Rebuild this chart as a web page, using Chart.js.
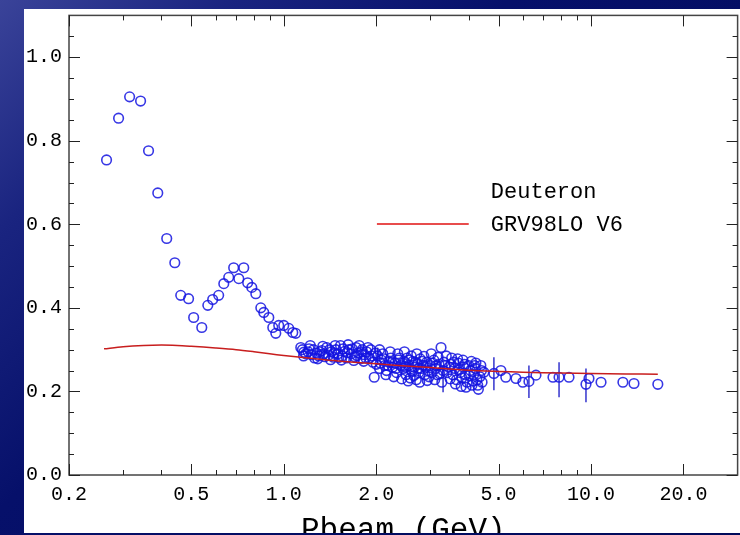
<!DOCTYPE html>
<html>
<head>
<meta charset="utf-8">
<script src="https://cdn.jsdelivr.net/npm/chart.js@4/dist/chart.umd.min.js"></script>
<style>
html, body { margin: 0; padding: 0; }
body {
  width: 740px; height: 535px; overflow: hidden; position: relative;
  background: linear-gradient(135deg, #3a4399 0%, #1a2480 18%, #06106a 40%, #000a5a 100%);
}
#panel { position: absolute; left: 24px; top: 9px; width: 716px; height: 524px; background: #fff; overflow: hidden; }
</style>
</head>
<body>
<div id="panel"><canvas id="plot" width="720" height="540"></canvas></div>
<script>
// deuteron data, Pbeam (GeV) vs ratio
var deutP = [
  0.265, 0.290, 0.315, 0.342, 0.363, 0.389, 0.416, 0.442, 0.462, 0.490,
  0.509, 0.541, 0.566, 0.587, 0.614, 0.638, 0.662, 0.687, 0.714, 0.741,
  0.763, 0.787, 0.811, 0.842, 0.861, 0.894, 0.921, 0.942, 0.963, 1.000,
  1.038, 1.070, 1.094, 1.136, 1.162,
  1.15, 1.18, 1.20, 1.23, 1.25, 1.28, 1.30, 1.33, 1.35, 1.38,
  1.40, 1.43, 1.45, 1.48, 1.50, 1.53, 1.55, 1.58, 1.60, 1.63,
  1.66, 1.70, 1.72, 1.75, 1.78, 1.80, 1.83, 1.86, 1.90,
  1.92, 1.95, 1.97, 2.00, 2.02, 2.05, 2.08, 2.10, 2.13, 2.16,
  2.20, 2.23, 2.26, 2.30, 2.33, 2.36, 2.40,
  2.45, 2.48, 2.50, 2.52, 2.55, 2.58, 2.60, 2.63, 2.66, 2.70,
  2.72, 2.75, 2.78, 2.80, 2.84, 2.88, 2.92, 2.95, 3.00, 3.04,
  3.08, 3.12, 3.16, 3.20, 3.25, 3.30, 3.35, 3.40,
  3.50, 3.55, 3.60, 3.65, 3.70, 3.75, 3.80, 3.85, 3.90, 3.95,
  4.00, 4.05, 4.10, 4.15, 4.20, 4.30, 4.35,
  1.16, 1.21, 1.26, 1.31, 1.36, 1.41, 1.46, 1.51, 1.56, 1.61,
  1.67, 1.73, 1.79, 1.85, 1.93, 1.99, 2.06, 2.12, 2.18, 2.25,
  2.32, 2.38, 2.44, 2.50, 2.56, 2.62, 2.68, 2.74, 2.82, 2.90,
  2.97, 3.05, 3.14, 3.22, 3.32, 3.45, 3.58, 3.72, 3.88, 4.02,
  4.18, 4.25, 4.40,
  2.05, 2.15, 2.22, 2.28, 2.35, 2.42, 2.47, 2.54, 2.60, 2.65,
  2.71, 2.77, 2.86, 2.93, 3.02, 3.10, 3.18, 3.27, 3.38, 3.48,
  3.52, 3.62, 3.68, 3.78, 3.83, 3.92, 4.08, 4.12, 4.22, 4.28,
  4.38, 4.42,
  1.22, 1.29, 1.34, 1.42, 1.47, 1.54, 1.62, 1.69, 1.76, 1.82, 1.88,
  4.48, 4.83, 5.09, 5.28, 5.70, 6.00, 6.28, 6.62, 7.52, 7.87,
  8.48, 9.63, 9.85, 10.78, 12.7, 13.8, 16.5
];
var deutR = [
  0.754, 0.854, 0.905, 0.895, 0.776, 0.675, 0.566, 0.508, 0.430, 0.422,
  0.377, 0.353, 0.406, 0.420, 0.430, 0.458, 0.473, 0.496, 0.470, 0.496,
  0.460, 0.449, 0.434, 0.400, 0.389, 0.377, 0.353, 0.339, 0.358, 0.358,
  0.351, 0.341, 0.339, 0.305, 0.294,
  0.300, 0.290, 0.295, 0.288, 0.300, 0.292, 0.285, 0.298, 0.290, 0.305,
  0.287, 0.295, 0.282, 0.300, 0.290, 0.310, 0.285, 0.296, 0.280, 0.300,
  0.290, 0.283, 0.305, 0.292, 0.278, 0.300, 0.288, 0.295, 0.280,
  0.300, 0.270, 0.234, 0.265, 0.285, 0.255, 0.275, 0.290, 0.262, 0.250,
  0.270, 0.280, 0.258, 0.268, 0.245, 0.275, 0.262,
  0.255, 0.270, 0.240, 0.280, 0.262, 0.232, 0.250, 0.272, 0.258, 0.228,
  0.265, 0.245, 0.278, 0.255, 0.262, 0.240, 0.270, 0.250, 0.262, 0.245,
  0.275, 0.255, 0.240, 0.265, 0.305, 0.250, 0.262, 0.245,
  0.265, 0.240, 0.255, 0.228, 0.268, 0.245, 0.232, 0.258, 0.240, 0.222,
  0.262, 0.250, 0.215, 0.240, 0.255, 0.205, 0.235,
  0.285, 0.302, 0.280, 0.295, 0.283, 0.300, 0.292, 0.281, 0.302, 0.293,
  0.302, 0.286, 0.295, 0.280, 0.285, 0.292, 0.268, 0.278, 0.262, 0.270,
  0.255, 0.280, 0.268, 0.258, 0.275, 0.248, 0.270, 0.255, 0.272, 0.258,
  0.235, 0.268, 0.262, 0.242, 0.270, 0.258, 0.270, 0.252, 0.265, 0.238,
  0.262, 0.228, 0.250,
  0.300, 0.240, 0.295, 0.235, 0.290, 0.230, 0.295, 0.225, 0.285, 0.238,
  0.290, 0.222, 0.284, 0.226, 0.290, 0.228, 0.282, 0.222, 0.285, 0.230,
  0.280, 0.218, 0.278, 0.212, 0.275, 0.210, 0.272, 0.225, 0.268, 0.215,
  0.262, 0.222,
  0.310, 0.278, 0.308, 0.276, 0.310, 0.275, 0.312, 0.274, 0.310, 0.272, 0.305,
  0.246, 0.243, 0.250, 0.234, 0.231, 0.222, 0.224, 0.239, 0.234, 0.234,
  0.234, 0.217, 0.231, 0.222, 0.222, 0.219, 0.217
];

// error bars (low / high ends)
var errP  = [2.02, 3.30, 4.83, 6.28, 7.87, 9.63];
var errLo = [0.267, 0.198, 0.203, 0.184, 0.186, 0.174];
var errHi = [0.305, 0.262, 0.282, 0.262, 0.270, 0.255];

// GRV98LO V6 curve
var curveP = [0.26, 0.30, 0.35, 0.40, 0.45, 0.50, 0.60, 0.70, 0.80, 0.90, 1.0, 1.2, 1.5, 2.0, 2.5, 3.0, 4.0, 5.0, 6.0, 8.0, 10.0, 13.0, 16.5];
var curveR = [0.302, 0.307, 0.310, 0.311, 0.310, 0.308, 0.304, 0.300, 0.295, 0.290, 0.286, 0.280, 0.273, 0.266, 0.261, 0.257, 0.251, 0.248, 0.246, 0.244, 0.243, 0.242, 0.241];

var xTicks = [0.2, 0.5, 1.0, 2.0, 5.0, 10.0, 20.0];
var xMinor = [0.3, 0.4, 0.6, 0.7, 0.8, 0.9, 3, 4, 6, 7, 8, 9];
var yTicks = [0.0, 0.2, 0.4, 0.6, 0.8, 1.0];
var yMinor = [0.05, 0.1, 0.15, 0.25, 0.3, 0.35, 0.45, 0.5, 0.55, 0.65, 0.7, 0.75, 0.85, 0.9, 0.95, 1.05];

var FONT = '"Liberation Mono", "DejaVu Sans Mono", monospace';

var deutPts = deutP.map(function (p, i) { return {x: p, y: deutR[i]}; });
var curvePts = curveP.map(function (p, i) { return {x: p, y: curveR[i]}; });

// frame, inward ticks on all four sides, error bars, in-plot legend
var framePlugin = {
  id: 'frame',
  beforeDatasetsDraw: function (chart) {
    var c = chart.ctx, xs = chart.scales.x, ys = chart.scales.y;
    c.save();
    c.strokeStyle = 'rgba(30,30,200,0.9)';
    c.lineWidth = 1.5;
    errP.forEach(function (p, i) {
      var px = xs.getPixelForValue(p);
      c.beginPath();
      c.moveTo(px, ys.getPixelForValue(errLo[i]));
      c.lineTo(px, ys.getPixelForValue(errHi[i]));
      c.stroke();
    });
    c.restore();
  },
  afterDatasetsDraw: function (chart) {
    var c = chart.ctx, a = chart.chartArea, xs = chart.scales.x, ys = chart.scales.y;
    c.save();
    c.strokeStyle = '#444';
    c.lineWidth = 1.5;
    c.strokeRect(a.left, a.top, a.right - a.left, a.bottom - a.top);
    c.lineWidth = 1;
    c.strokeStyle = '#222';
    function xt(v, len) {
      var px = Math.round(xs.getPixelForValue(v)) + 0.5;
      c.beginPath();
      c.moveTo(px, a.bottom); c.lineTo(px, a.bottom - len);
      c.moveTo(px, a.top); c.lineTo(px, a.top + len);
      c.stroke();
    }
    function yt(v, len) {
      var py = Math.round(ys.getPixelForValue(v)) + 0.5;
      c.beginPath();
      c.moveTo(a.left, py); c.lineTo(a.left + len, py);
      c.moveTo(a.right, py); c.lineTo(a.right - len, py);
      c.stroke();
    }
    xTicks.forEach(function (v) { xt(v, 11); });
    xMinor.forEach(function (v) { xt(v, 5); });
    yTicks.forEach(function (v) { yt(v, 11); });
    yMinor.forEach(function (v) { yt(v, 5); });

    // legend
    c.fillStyle = '#000';
    c.font = '22px ' + FONT;
    c.textBaseline = 'middle';
    var tx = xs.getPixelForValue(4.72);
    c.fillText('Deuteron', tx, ys.getPixelForValue(0.678));
    c.fillText('GRV98LO V6', tx, ys.getPixelForValue(0.599));
    c.strokeStyle = '#e01010';
    c.lineWidth = 1.5;
    c.beginPath();
    c.moveTo(xs.getPixelForValue(2.01), ys.getPixelForValue(0.601));
    c.lineTo(xs.getPixelForValue(4.0), ys.getPixelForValue(0.601));
    c.stroke();
    c.restore();
  }
};

var ctx = document.getElementById('plot');
var myChart = new Chart(ctx, {
  type: 'scatter',
  data: {
    datasets: [{
      label: 'GRV98LO V6',
      data: curvePts,
      showLine: true,
      borderColor: '#c81e1e',
      borderWidth: 1.5,
      pointRadius: 0,
      tension: 0.3,
      fill: false
    }, {
      label: 'Deuteron',
      data: deutPts,
      pointStyle: 'circle',
      pointRadius: 4.8,
      pointBorderWidth: 1.6,
      borderColor: 'rgba(20,20,225,0.85)',
      backgroundColor: 'rgba(0,0,0,0)'
    }]
  },
  options: {
    responsive: false,
    animation: false,
    layout: { padding: { top: 5, right: 0, left: 0, bottom: 0 } },
    plugins: { legend: { display: false }, tooltip: { enabled: false } },
    scales: {
      x: {
        type: 'logarithmic',
        min: 0.2, max: 30,
        afterBuildTicks: function (s) { s.ticks = xTicks.map(function (v) { return {value: v}; }); },
        afterFit: function (s) { s.height = 74; s.paddingLeft = 0; s.paddingRight = 0; },
        ticks: {
          callback: function (v) { return Number(v).toFixed(1); },
          font: { family: FONT, size: 20 }, color: '#000',
          padding: 8, maxRotation: 0, autoSkip: false
        },
        grid: { display: false, drawTicks: false },
        border: { display: false },
        title: {
          display: true, text: 'Pbeam (GeV)',
          font: { family: FONT, size: 31 }, color: '#000',
          padding: { top: 0, bottom: 0 }
        }
      },
      y: {
        min: 0, max: 1.1,
        afterBuildTicks: function (s) { s.ticks = yTicks.map(function (v) { return {value: v}; }); },
        afterFit: function (s) { s.width = 45; s.paddingTop = 0; s.paddingBottom = 0; },
        ticks: {
          callback: function (v) { return Number(v).toFixed(1); },
          font: { family: FONT, size: 20 }, color: '#000',
          padding: 7
        },
        grid: { display: false, drawTicks: false },
        border: { display: false }
      }
    }
  },
  plugins: [framePlugin]
});
</script>
</body>
</html>
